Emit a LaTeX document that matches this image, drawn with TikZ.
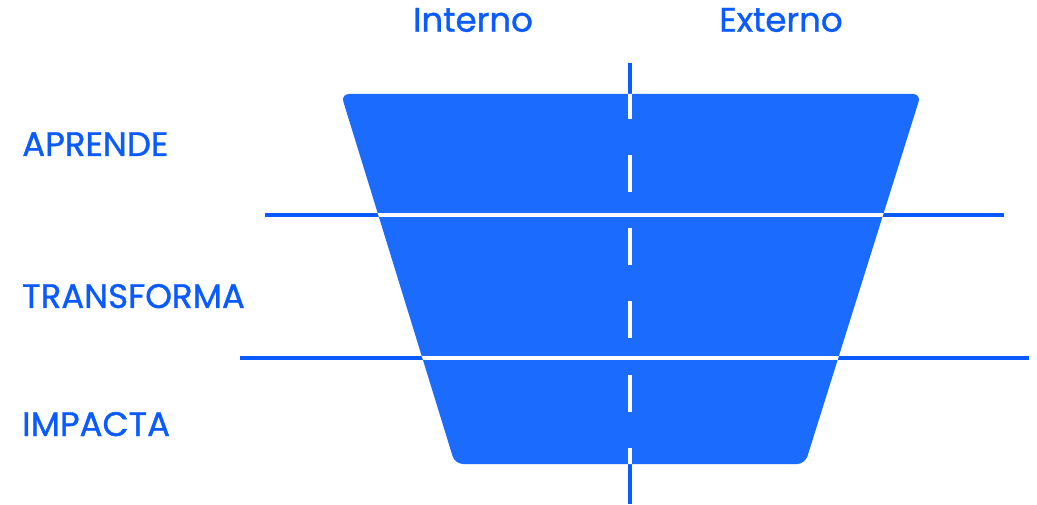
\documentclass[tikz,border=0pt]{standalone}
\usepackage{xcolor}
\usepackage{fontspec}
\newfontfamily\labelfont{Poppins}[FakeBold=1.1]
\usepackage{tikz}
\usetikzlibrary{positioning}
\definecolor{funnelblue}{HTML}{1C6BFF}
\definecolor{inkblue}{HTML}{0A5BFF}

\begin{document}
\begin{tikzpicture}[
    x=0.75pt, y=-0.75pt,
    axis/.style={draw=inkblue, line width=3pt},
    cut/.style={draw=white, line width=3pt},
    label/.style={text=inkblue, font=\labelfont\fontsize{25.5}{30}\selectfont, inner sep=0pt},
    level/.style={label, anchor=base west}
  ]
    \useasboundingbox (0,0) rectangle (1037,505);

    % funnel corners
    \coordinate (TL) at (341,94);
    \coordinate (TR) at (921,94);
    \coordinate (BR) at (805,464);
    \coordinate (BL) at (455,464);

    % guide lines behind the funnel
    \coordinate (V1) at (630,63);   \coordinate (V2) at (630,504);
    \coordinate (H1a) at (265,215); \coordinate (H1b) at (1004,215);
    \coordinate (H2a) at (240,358); \coordinate (H2b) at (1029,358);
    \draw[axis] (V1) -- (V2);
    \draw[axis] (H1a) -- (H1b);
    \draw[axis] (H2a) -- (H2b);

    \fill[funnelblue, rounded corners=6pt] (TL) -- (TR) -- (BR) -- (BL) -- cycle;

    % white cuts inside the funnel
    \begin{scope}
      \clip (TL) -- (TR) -- (BR) -- (BL) -- cycle;
      \draw[cut] (H1a) -- (H1b);
      \draw[cut] (H2a) -- (H2b);
      \coordinate (D1) at (630,81.7);
      \draw[cut, dash pattern=on 27.75pt off 27.2pt] (D1) -- (V2);
    \end{scope}

    \node[label] (int) at (473,20) {Interno};
    \node[label] (ext) at (781,20) {Externo};

    \node[level] (apr) at (22,156) {APRENDE};
    \node[level] (tra) at (22,308) {TRANSFORMA};
    \node[level] (imp) at (22,436) {IMPACTA};
\end{tikzpicture}
\end{document}
